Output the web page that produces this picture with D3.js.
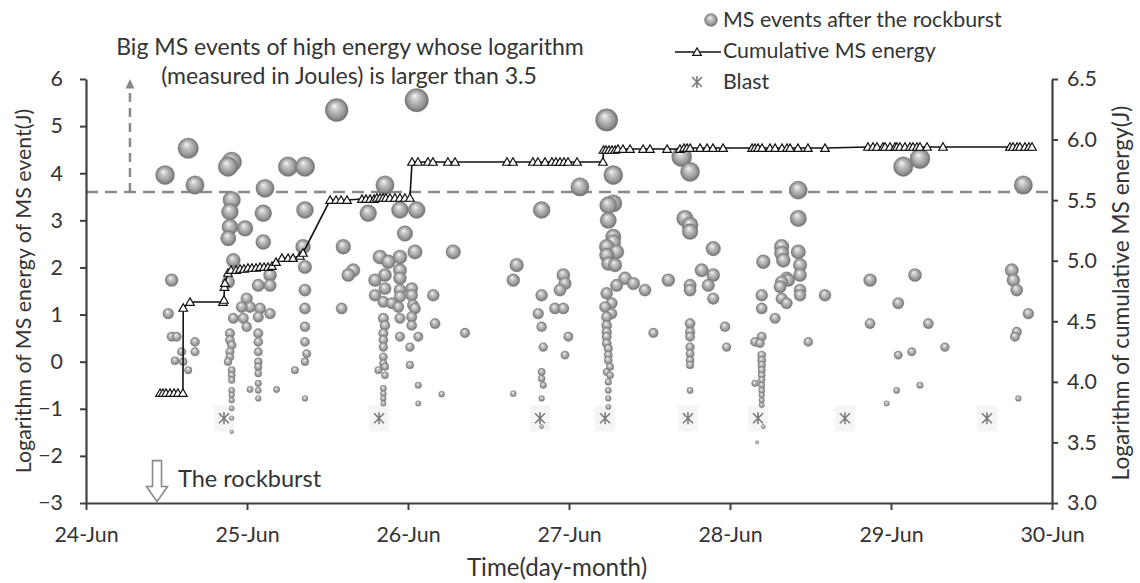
<!DOCTYPE html>
<html><head><meta charset="utf-8">
<script src="https://cdn.jsdelivr.net/npm/d3@7"></script>
<style>
html,body{margin:0;padding:0;background:#fff;}
svg text{font-family:Lato,"Open Sans",sans-serif;fill:#343434;}
</style></head><body>
<svg id="chart" width="1140" height="583"></svg>
<script>
// ---------- data ----------
const dayLabels = ["24-Jun","25-Jun","26-Jun","27-Jun","28-Jun","29-Jun","30-Jun"];
const dayTicks = [0,1,2,3,4,5,6];
const leftTicks = [-3,-2,-1,0,1,2,3,4,5,6];
const rightTicks = [3.0,3.5,4.0,4.5,5.0,5.5,6.0,6.5];

// [days after 24-Jun 00:00, log10 energy (J)]
const msEvents = [
[0.491,3.96],[0.635,4.53],[0.677,3.75],[0.532,1.73],[0.511,1.02],[0.532,0.53],[0.563,0.53],[0.677,0.42],[0.677,0.21],[0.594,0.21],[0.553,0.02],[0.604,0.00],[0.635,-0.18],
[0.905,4.24],[0.882,4.14],[1.255,4.14],[1.360,4.14],[1.112,3.68],[0.905,3.43],[0.894,3.18],[0.894,2.86],[0.884,2.62],[0.988,2.83],[1.101,3.15],[1.360,3.22],[1.101,2.54],[1.348,2.44],[0.915,2.15],[1.143,1.84],[1.070,1.62],[1.143,1.62],[1.360,2.01],[0.884,1.69],[1.360,1.52],[0.998,1.34],[1.019,1.16],[0.967,1.16],[1.081,1.13],[1.143,1.02],[1.070,0.95],[0.915,0.92],[0.977,0.92],[0.998,0.74],[1.360,1.13],
[0.894,0.60],[0.894,0.46],[0.894,0.21],[0.894,0.10],[0.882,0.00],[0.905,-0.18],[0.905,-0.29],[0.905,-0.39],[0.905,-0.61],[0.905,-0.82],[0.905,-0.99],[0.905,-1.20],[0.905,-1.49],[0.905,0.35],[0.905,-0.71],
[1.070,0.60],[1.070,0.42],[1.070,0.21],[1.070,0.00],[1.070,-0.11],[1.070,-0.25],[1.070,-0.46],[1.070,-0.61],[1.070,-0.78],[1.019,-0.59],[1.184,-0.59],
[1.360,0.74],[1.360,0.42],[1.360,0.00],[1.298,-0.18],[1.360,-0.78],[1.371,0.17],
[1.557,5.34],[1.598,2.44],[1.660,1.94],[1.629,1.84],[1.588,1.13],
[1.857,3.75],[2.054,5.55],[1.753,3.15],[1.950,3.22],[2.054,3.22],[1.981,2.72],[2.043,2.33],[2.281,2.33],[1.826,2.22],[1.878,2.12],[1.950,2.22],[1.950,1.94],[1.950,1.77],[1.795,1.73],[1.857,1.84],[1.795,1.41],[1.857,1.55],[1.950,1.52],[1.950,1.38],[2.023,1.55],[2.023,1.41],[2.157,1.41],[1.847,1.27],[1.899,1.24],[1.940,1.16],[2.043,1.13],[2.023,0.95],[2.023,0.77],[1.950,0.92],[1.847,0.92],[1.857,0.77],[1.847,0.60],[1.847,0.46],[1.847,0.31],[2.168,0.81],[1.950,0.53],[2.064,0.53],[2.012,0.31],[1.847,0.10],[1.847,-0.04],[1.857,-0.11],[1.816,-0.18],[1.857,-0.29],[2.012,-0.07],[2.064,-0.50],[2.209,-0.69],[1.847,-0.57],[1.847,-0.68],[1.847,-0.78],[1.847,-0.89],[2.064,-0.89],[2.354,0.61],[2.031,1.20],
[2.830,3.22],[2.675,2.05],[2.654,1.73],[2.965,1.84],[2.975,1.66],[2.944,1.52],[2.830,1.41],[2.809,1.02],[2.913,1.13],[2.965,1.13],[2.830,0.74],[2.996,0.53],[2.840,0.31],[2.975,0.14],[2.830,-0.22],[2.830,-0.36],[2.840,-0.50],[2.830,-0.78],[2.830,-1.38],[2.654,-0.68],
[3.068,3.71],[3.234,5.13],[3.275,3.96],[3.244,3.32],[3.275,3.36],[3.244,3.00],[3.275,2.65],[3.234,2.44],[3.296,2.33],[3.234,2.26],[3.244,2.08],[3.286,2.05],[3.275,2.54],[3.296,1.62],[3.348,1.77],[3.400,1.66],[3.472,1.52],[3.617,1.73],[3.234,1.45],[3.265,1.24],[3.224,1.16],[3.265,1.02],[3.234,0.95],[3.234,0.77],[3.234,0.63],[3.234,0.53],[3.234,0.39],[3.244,0.28],[3.244,0.14],[3.244,0.03],[3.255,-0.11],[3.234,-0.22],[3.255,-0.29],[3.244,-0.43],[3.244,-0.61],[3.244,-0.78],[3.244,-0.96],[3.524,0.61],
[3.700,4.35],[3.752,4.03],[3.720,3.04],[3.752,2.90],[3.752,2.76],[3.896,2.40],[3.824,1.94],[3.896,1.84],[3.865,1.62],[3.896,1.34],[3.752,1.62],[3.752,1.52],[3.969,0.74],[3.979,0.31],[3.752,0.81],[3.752,0.63],[3.752,0.53],[3.752,0.31],[3.752,0.17],[3.752,0.03],[3.752,-0.07],[3.752,-0.61],
[4.424,3.64],[4.424,3.04],[4.321,2.44],[4.321,2.30],[4.331,2.15],[4.424,2.33],[4.435,2.05],[4.435,1.84],[4.435,1.52],[4.435,1.41],[4.207,2.12],[4.362,1.73],[4.321,1.69],[4.311,1.59],[4.352,1.77],[4.590,1.41],[4.197,1.41],[4.197,1.13],[4.321,1.34],[4.352,1.24],[4.280,0.92],[4.486,0.42],[4.197,0.53],[4.155,0.42],[4.186,0.39],[4.197,0.14],[4.197,0.03],[4.197,-0.07],[4.197,-0.18],[4.197,-0.29],[4.197,-0.39],[4.197,-0.50],[4.197,-0.61],[4.197,-0.71],[4.197,-0.82],[4.197,-0.92],[4.155,-0.46],[4.207,-1.38],[4.168,-1.71],
[4.870,1.73],[4.870,0.81],[5.045,1.24],[5.149,1.84],[5.076,4.14],[5.180,4.31],[5.232,0.81],[5.045,0.14],[5.129,0.21],[5.335,0.31],[5.035,-0.61],[5.180,-0.50],[4.973,-0.89],
[5.822,3.75],[5.750,1.94],[5.760,1.73],[5.781,1.52],[5.853,1.02],[5.781,0.63],[5.770,0.53],[5.791,-0.78]
];

// [days after 24-Jun 00:00, log10 cumulative energy (J)]
const cumulativeEnergy = [
[0.460,3.908],[0.478,3.908],[0.497,3.908],[0.522,3.908],[0.547,3.908],[0.571,3.908],[0.602,3.908],
[0.604,4.610],[0.646,4.659],[0.851,4.659],[0.857,4.676],[0.860,4.783],[0.863,4.816],[0.882,4.899],[0.901,4.923],[0.932,4.923],[0.957,4.932],[0.981,4.932],[1.006,4.940],[1.031,4.940],[1.056,4.940],[1.081,4.948],[1.106,4.948],[1.130,4.948],[1.155,4.956],[1.180,4.989],[1.217,5.022],[1.255,5.022],[1.286,5.022],[1.329,5.039],[1.348,5.064],
[1.516,5.501],[1.553,5.501],[1.584,5.501],[1.621,5.501],[1.714,5.509],[1.739,5.509],[1.764,5.509],[1.789,5.509],[1.807,5.518],[1.826,5.518],[1.845,5.518],[1.863,5.518],[1.888,5.518],[1.919,5.518],[1.950,5.518],[1.981,5.518],[2.012,5.518],
[2.025,5.815],[2.062,5.815],[2.124,5.815],[2.155,5.815],[2.248,5.815],[2.292,5.815],[2.615,5.815],[2.652,5.815],[2.776,5.815],[2.807,5.815],[2.851,5.815],[2.894,5.815],[2.919,5.815],[2.944,5.815],[2.969,5.815],[2.994,5.815],[3.050,5.815],[3.211,5.815],
[3.214,5.914],[3.230,5.914],[3.248,5.914],[3.267,5.914],[3.286,5.914],[3.304,5.922],[3.335,5.922],[3.379,5.922],[3.460,5.922],[3.503,5.922],[3.609,5.922],[3.689,5.922],[3.714,5.930],[3.733,5.930],[3.752,5.930],[3.814,5.930],[3.857,5.930],[3.894,5.930],[3.957,5.930],
[4.137,5.930],[4.155,5.930],[4.174,5.930],[4.199,5.930],[4.248,5.930],[4.280,5.930],[4.323,5.930],[4.354,5.930],[4.373,5.930],[4.422,5.930],[4.484,5.930],[4.590,5.930],
[4.857,5.939],[4.888,5.939],[4.913,5.939],[4.950,5.939],[4.963,5.939],[4.994,5.939],[5.025,5.939],[5.037,5.939],[5.056,5.939],[5.087,5.939],[5.118,5.939],[5.137,5.939],[5.161,5.939],[5.180,5.939],[5.224,5.939],[5.323,5.939],
[5.739,5.939],[5.758,5.939],[5.783,5.939],[5.801,5.939],[5.832,5.939],[5.857,5.939],[5.876,5.939]
];

const blastDays = [0.857,1.820,2.820,3.224,3.739,4.174,4.714,5.596];
const blastLevel = 3.7;        // right axis
const thresholdLevel = 3.6;    // left axis
const rockburstDay = 0.441;
const arrowDay = 0.273;

// ---------- layout ----------
const svg = d3.select("#chart");
const P = {l:86, r:1052, t:79, b:503};
const x = d3.scaleLinear().domain([0,6]).range([P.l,P.r]);
const yL = d3.scaleLinear().domain([-3,6]).range([P.b,P.t]);
const yR = d3.scaleLinear().domain([3,6.5]).range([P.b,P.t]);
const rS = d3.scaleLinear().domain([-2,6]).range([1.2,12.4]).clamp(true);

// font size fitted so that legend text width matches the reference
const probe = svg.append("text").attr("font-size",23).text("MS events after the rockburst");
const FS = 23*279/probe.node().getComputedTextLength();
probe.remove();

const defs = svg.append("defs");
const gr = defs.append("radialGradient").attr("id","ball")
  .attr("cx","50%").attr("cy","50%").attr("r","50%").attr("fx","40%").attr("fy","30%");
gr.append("stop").attr("offset","0%").attr("stop-color","#f6f6f6");
gr.append("stop").attr("offset","30%").attr("stop-color","#cacaca");
gr.append("stop").attr("offset","75%").attr("stop-color","#979797");
gr.append("stop").attr("offset","100%").attr("stop-color","#6c6c6c");

const axisCol = "#404040";
const dashCol = "#8a8a8a";

// threshold dashed line + vertical arrow
svg.append("line").attr("x1",P.l).attr("x2",P.r)
  .attr("y1",yL(thresholdLevel)).attr("y2",yL(thresholdLevel))
  .attr("stroke",dashCol).attr("stroke-width",2.5).attr("stroke-dasharray","12,7");
svg.append("line").attr("x1",x(arrowDay)).attr("x2",x(arrowDay))
  .attr("y1",yL(thresholdLevel)).attr("y2",yL(5.85))
  .attr("stroke",dashCol).attr("stroke-width",2.5).attr("stroke-dasharray","9,6");
svg.append("path").attr("fill",dashCol)
  .attr("d",`M${x(arrowDay)},${yL(6.0)} L${x(arrowDay)-4.5},${yL(5.8)} L${x(arrowDay)+4.5},${yL(5.8)} Z`);

// blasts
const star = (cx,cy,s)=>{const p=d3.path();
  p.moveTo(cx-s,cy-s);p.lineTo(cx+s,cy+s);p.moveTo(cx-s,cy+s);p.lineTo(cx+s,cy-s);
  p.moveTo(cx,cy-s*1.2);p.lineTo(cx,cy+s*1.2);return p.toString();};
svg.append("g").selectAll("rect").data(blastDays).join("rect")
  .attr("x",d=>x(d)-10).attr("y",yR(blastLevel)-13).attr("width",20).attr("height",26)
  .attr("fill","#f5f5f5");

// bubbles
const sorted = msEvents.slice().sort((a,b)=>b[1]-a[1]);
svg.append("g").selectAll("circle").data(sorted).join("circle")
  .attr("cx",d=>x(d[0])).attr("cy",d=>yL(d[1])).attr("r",d=>rS(d[1]))
  .attr("fill","url(#ball)").attr("stroke","#8a8a8a").attr("stroke-width",0.4);

svg.append("g").selectAll("path").data(blastDays).join("path")
  .attr("d",d=>star(x(d),yR(blastLevel),5))
  .attr("stroke","#7a7a7a").attr("stroke-width",1.6).attr("fill","none");

// cumulative line
svg.append("path").datum(cumulativeEnergy)
  .attr("d",d3.line().x(d=>x(d[0])).y(d=>yR(d[1])))
  .attr("fill","none").attr("stroke","#111").attr("stroke-width",1.6);
const tri = d3.symbol().type(d3.symbolTriangle).size(32);
svg.append("g").selectAll("path").data(cumulativeEnergy).join("path")
  .attr("transform",d=>`translate(${x(d[0])},${yR(d[1])+0.8})`)
  .attr("d",tri).attr("fill","#fff").attr("stroke","#111").attr("stroke-width",1.2);

// axes
function styleAxis(g){
  g.selectAll(".domain").attr("stroke",axisCol).attr("stroke-width",2.2);
  g.selectAll(".tick line").attr("stroke",axisCol).attr("stroke-width",2);
  g.selectAll(".tick text").attr("font-size",FS).attr("fill","#343434")
    .style("font-family","Lato,'Open Sans',sans-serif");
}
svg.append("g").attr("transform",`translate(0,${P.b})`)
  .call(d3.axisBottom(x).tickValues(dayTicks).tickFormat(i=>dayLabels[i])
    .tickSize(7).tickSizeOuter(0).tickPadding(39-7-0.71*FS))
  .call(styleAxis);
svg.append("g").attr("transform",`translate(${P.l},0)`)
  .call(d3.axisLeft(yL).tickValues(leftTicks).tickFormat(d3.format("d"))
    .tickSize(6).tickSizeOuter(0).tickPadding(17))
  .call(styleAxis);
svg.append("g").attr("transform",`translate(${P.r},0)`)
  .call(d3.axisRight(yR).tickValues(rightTicks).tickFormat(d3.format(".1f"))
    .tickSize(6).tickSizeOuter(0).tickPadding(9))
  .call(styleAxis);

// axis titles
const mid = (P.t+P.b)/2;
svg.append("text").attr("transform",`translate(31,${mid}) rotate(-90)`)
  .attr("text-anchor","middle").attr("font-size",FS).text("Logarithm of MS energy of MS event(J)");
svg.append("text").attr("transform",`translate(1129,${mid+2}) rotate(-90)`)
  .attr("text-anchor","middle").attr("font-size",FS*1.06).text("Logarithm of cumulative MS energy(J)");
svg.append("text").attr("x",557).attr("y",576)
  .attr("text-anchor","middle").attr("font-size",FS*1.13).text("Time(day-month)");

// annotations
svg.append("text").attr("x",350).attr("y",55).attr("text-anchor","middle")
  .attr("font-size",FS*1.077).text("Big MS events of high energy whose logarithm");
svg.append("text").attr("x",349).attr("y",84).attr("text-anchor","middle")
  .attr("font-size",FS*1.077).text("(measured in Joules) is larger than 3.5");

// rockburst arrow
const ax = x(rockburstDay), a1 = yL(-2.1), a2 = yL(-2.65), a3 = yL(-2.97);
svg.append("path")
  .attr("d",`M${ax-4.5},${a1} L${ax+4.5},${a1} L${ax+4.5},${a2} L${ax+10.5},${a2} L${ax},${a3} L${ax-10.5},${a2} L${ax-4.5},${a2} Z`)
  .attr("fill","#fff").attr("stroke","#8a8a8a").attr("stroke-width",1.6);
svg.append("text").attr("x",178).attr("y",487).attr("font-size",FS*1.1).text("The rockburst");

// legend
const lg = svg.append("g");
lg.append("circle").attr("cx",711).attr("cy",20).attr("r",6.5).attr("fill","url(#ball)")
  .attr("stroke","#8a8a8a").attr("stroke-width",0.4);
lg.append("text").attr("x",723).attr("y",27).attr("font-size",FS).text("MS events after the rockburst");
lg.append("line").attr("x1",675).attr("x2",721).attr("y1",52).attr("y2",52)
  .attr("stroke","#111").attr("stroke-width",1.6);
lg.append("path").attr("transform","translate(697,52.8)").attr("d",tri)
  .attr("fill","#fff").attr("stroke","#111").attr("stroke-width",1.2);
lg.append("text").attr("x",723).attr("y",58).attr("font-size",FS).text("Cumulative MS energy");
lg.append("path").attr("d",star(697,82,5)).attr("stroke","#7a7a7a").attr("stroke-width",1.6).attr("fill","none");
lg.append("text").attr("x",723).attr("y",89).attr("font-size",FS).text("Blast");
</script>
</body></html>
